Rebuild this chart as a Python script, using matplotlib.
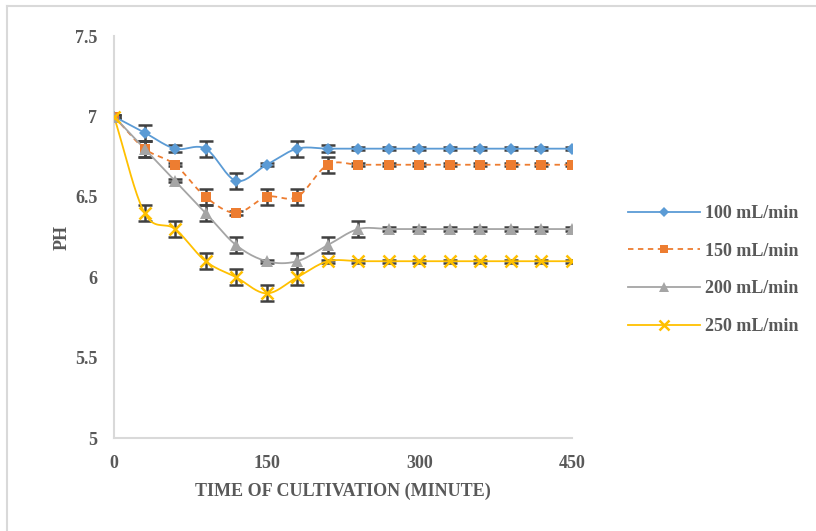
import numpy as np
from matplotlib import pyplot as plt
from matplotlib.lines import Line2D

# cultivation time (minute) and pH readings for each aeration rate
time_min = [0, 30, 60, 90, 120, 150, 180, 210, 240, 270, 300, 330, 360, 390, 420, 450]
ph_100 = [7.0, 6.9, 6.8, 6.8, 6.6, 6.7, 6.8, 6.8, 6.8, 6.8, 6.8, 6.8, 6.8, 6.8, 6.8, 6.8]
ph_150 = [7.0, 6.8, 6.7, 6.5, 6.4, 6.5, 6.5, 6.7, 6.7, 6.7, 6.7, 6.7, 6.7, 6.7, 6.7, 6.7]
ph_200 = [7.0, 6.8, 6.6, 6.4, 6.2, 6.1, 6.1, 6.2, 6.3, 6.3, 6.3, 6.3, 6.3, 6.3, 6.3, 6.3]
ph_250 = [7.0, 6.4, 6.3, 6.1, 6.0, 5.9, 6.0, 6.1, 6.1, 6.1, 6.1, 6.1, 6.1, 6.1, 6.1, 6.1]
err_100 = [0.01, 0.05, 0.02, 0.05, 0.05, 0.01, 0.05, 0.02, 0.01, 0.01, 0.01, 0.01, 0.01, 0.01, 0.01, 0.01]
err_150 = [0.01, 0.05, 0.01, 0.05, 0.01, 0.05, 0.05, 0.05, 0.01, 0.01, 0.01, 0.01, 0.01, 0.01, 0.01, 0.01]
err_200 = [0.01, 0.05, 0.01, 0.05, 0.05, 0.01, 0.05, 0.05, 0.05, 0.01, 0.01, 0.01, 0.01, 0.01, 0.01, 0.01]
err_250 = [0.01, 0.05, 0.05, 0.05, 0.05, 0.05, 0.05, 0.01, 0.01, 0.01, 0.01, 0.01, 0.01, 0.01, 0.01, 0.01]
labels = ['100 mL/min', '150 mL/min', '200 mL/min', '250 mL/min']


def smooth(x, y, n=20):
    # Catmull-Rom curve through the points, like a spreadsheet "smoothed line"
    x = np.asarray(x, float)
    y = np.asarray(y, float)
    px = np.concatenate([[2 * x[0] - x[1]], x, [2 * x[-1] - x[-2]]])
    py = np.concatenate([[2 * y[0] - y[1]], y, [2 * y[-1] - y[-2]]])
    t = np.linspace(0, 1, n, endpoint=False)
    xs, ys = [], []
    for i in range(1, len(px) - 2):
        for p, out in ((px, xs), (py, ys)):
            p0, p1, p2, p3 = p[i - 1:i + 3]
            out.extend(0.5 * (2 * p1 + (-p0 + p2) * t
                              + (2 * p0 - 5 * p1 + 4 * p2 - p3) * t ** 2
                              + (-p0 + 3 * p1 - 3 * p2 + p3) * t ** 3))
    xs.append(x[-1])
    ys.append(y[-1])
    return np.array(xs), np.array(ys)


plt.rcParams['font.family'] = ['Liberation Serif', 'DejaVu Serif']
plt.rcParams['font.weight'] = 'bold'
grey_text = '#595959'

fig = plt.figure(figsize=(8.16, 5.31), dpi=100)
ax = fig.add_axes([0.1397, 0.175, 0.5613, 0.757])

styles = [
    dict(color='#5B9BD5', marker='D', ms=6.5, ls='-', mew=0),
    dict(color='#ED7D31', marker='s', ms=7.5, ls=(0, (3, 2.5)), mew=0),
    dict(color='#A5A5A5', marker='^', ms=8, ls='-', mew=0),
    dict(color='#FFC000', marker='x', ms=8.5, ls='-', mew=1.8),
]
series = [(ph_100, err_100), (ph_150, err_150), (ph_200, err_200), (ph_250, err_250)]

handles = []
for (ph, err), st, lab in zip(series, styles, labels):
    ax.errorbar(time_min, ph, yerr=err, fmt='none', ecolor='#404040',
                elinewidth=1.8, capsize=5, capthick=1.8, zorder=2)
    sx, sy = smooth(time_min, ph)
    ax.plot(sx, sy, color=st['color'], ls=st['ls'], lw=1.3, zorder=3)
    ax.plot(time_min, ph, ls='none', marker=st['marker'], ms=st['ms'],
            color=st['color'], mew=st['mew'], zorder=4)
    handles.append(Line2D([], [], color=st['color'], ls=st['ls'], lw=1.3,
                          marker=st['marker'], ms=st['ms'] - 1.5, mew=st['mew'],
                          label=lab))

ax.set_xlim(0, 450)
ax.set_ylim(5, 7.5)
ax.set_xticks([0, 150, 300, 450])
ax.set_yticks([5, 5.5, 6, 6.5, 7, 7.5])
ax.set_yticklabels(['5', '5.5', '6', '6.5', '7', '7.5'])
ax.tick_params(length=0, labelsize=13, labelcolor=grey_text, pad=12)
ax.tick_params(axis='y', pad=12)
for lbl in ax.get_xticklabels() + ax.get_yticklabels():
    lbl.set_fontweight('bold')
for side in ('top', 'right'):
    ax.spines[side].set_visible(False)
for side in ('left', 'bottom'):
    ax.spines[side].set_color('#D9D9D9')
    ax.spines[side].set_linewidth(1.5)
ax.set_xlabel('TIME OF CULTIVATION (MINUTE)', fontsize=13, fontweight='bold',
              color=grey_text, labelpad=8)
ax.set_ylabel('PH', fontsize=13, fontweight='bold', color=grey_text, labelpad=3)

fig.legend(handles=handles, loc='center left', bbox_to_anchor=(0.769, 0.4915),
           frameon=False, handlelength=4.0, handletextpad=0.3, labelspacing=1.15,
           borderpad=0, borderaxespad=0,
           prop=dict(size=13, weight='bold'), labelcolor=grey_text)

# chart area border
fig.add_artist(Line2D([0.009, 1.0], [0.989, 0.989], color='#D9D9D9', lw=1.5))
fig.add_artist(Line2D([0.009, 0.009], [0.0, 0.989], color='#D9D9D9', lw=1.5))

fig.savefig('out.png', dpi=100)
